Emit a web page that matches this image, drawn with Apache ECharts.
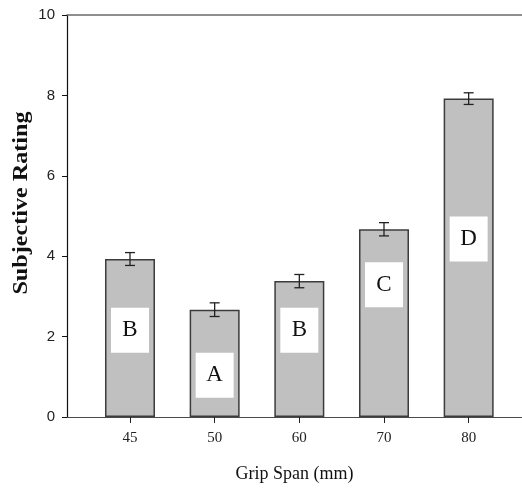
<!DOCTYPE html>
<html>
<head>
<meta charset="utf-8">
<script src="https://cdn.jsdelivr.net/npm/echarts@6/dist/echarts.min.js"></script>
<style>html,body{margin:0;padding:0;background:#fff;}#c{width:522px;height:488px;}</style>
</head>
<body>
<div id="c"></div>
<script>
const categories = ['45', '50', '60', '70', '80'];
const means = [3.93, 2.67, 3.38, 4.67, 7.92];
const errors = [0.16, 0.17, 0.165, 0.165, 0.145];
const groupLetters = ['B', 'A', 'B', 'C', 'D'];
const letterY = [2.16, 1.04, 2.16, 3.29, 4.43];
const yTicks = [0, 2, 4, 6, 8, 10];

const chart = echarts.init(document.getElementById('c'), null, {renderer: 'canvas'});
const idx = categories.map((c, i) => i);

const option = {
  animation: false,
  backgroundColor: '#fff',
  grid: {left: 67, right: 0, top: 15, bottom: 71, containLabel: false},
  xAxis: [{
    type: 'value', min: -0.744, max: 4.63,
    axisLine: {show: true, onZero: false, lineStyle: {color: '#4a4a4a', width: 1.2}},
    axisTick: {show: true, length: 6, customValues: idx, lineStyle: {color: '#222', width: 1}},
    axisLabel: {show: true, customValues: idx, margin: 14, fontFamily: 'Liberation Serif, serif', fontSize: 15, color: '#222',
      formatter: v => categories[Math.round(v)]},
    splitLine: {show: false},
    name: 'Grip Span (mm)', nameLocation: 'middle', nameGap: 48,
    nameTextStyle: {fontFamily: 'Liberation Serif, serif', fontSize: 18, color: '#111'}
  }, {
    type: 'value', position: 'top', min: -0.744, max: 4.63,
    axisLine: {show: true, onZero: false, lineStyle: {color: '#6a6a6a', width: 1.5}},
    axisTick: {show: false}, axisLabel: {show: false}, splitLine: {show: false}
  }],
  yAxis: {
    type: 'value', min: 0, max: 10, interval: 2,
    axisLine: {show: true, onZero: false, lineStyle: {color: '#111', width: 1.2}},
    axisTick: {show: true, length: 5, lineStyle: {color: '#111'}},
    axisLabel: {margin: 12, fontFamily: "'Liberation Sans Narrow', 'Liberation Sans', Arial, sans-serif", fontSize: 15, color: '#222',
      formatter: v => yTicks.includes(v) ? String(v) : ''},
    splitLine: {show: false}
  },
  graphic: [{
    type: 'text', x: 22, y: 203, rotation: Math.PI / 2, scaleX: 1.15,
    style: {text: 'Subjective Rating', font: 'bold 21px "Liberation Serif", serif', fill: '#111',
      textAlign: 'center', textVerticalAlign: 'middle'}
  }],
  series: [{
    type: 'bar',
    data: means.map((m, i) => [i, m]),
    barWidth: 50,
    itemStyle: {color: '#c0c0c0', borderColor: '#3c3c3c', borderWidth: 1.5},
    z: 2
  }, {
    type: 'custom',
    data: means.map((m, i) => [i, m, errors[i]]),
    renderItem: function (params, api) {
      const x = api.value(0), m = api.value(1), e = api.value(2);
      const hi = api.coord([x, m + e]);
      const lo = api.coord([x, m - e]);
      const hw = 5;
      const st = {stroke: '#222', lineWidth: 1.3};
      return {type: 'group', children: [
        {type: 'line', shape: {x1: hi[0], y1: hi[1], x2: lo[0], y2: lo[1]}, style: st},
        {type: 'line', shape: {x1: hi[0] - hw, y1: hi[1], x2: hi[0] + hw, y2: hi[1]}, style: st},
        {type: 'line', shape: {x1: lo[0] - hw, y1: lo[1], x2: lo[0] + hw, y2: lo[1]}, style: st}
      ]};
    },
    z: 3
  }, {
    type: 'scatter',
    data: letterY.map((v, i) => [i, v, groupLetters[i]]),
    symbol: 'rect', symbolSize: [38, 45],
    itemStyle: {color: '#ffffff', opacity: 1},
    label: {show: true, position: 'inside', formatter: p => p.data[2],
      fontFamily: 'Liberation Serif, serif', fontSize: 23, color: '#111'},
    z: 4
  }]
};
chart.setOption(option);
</script>
</body>
</html>
